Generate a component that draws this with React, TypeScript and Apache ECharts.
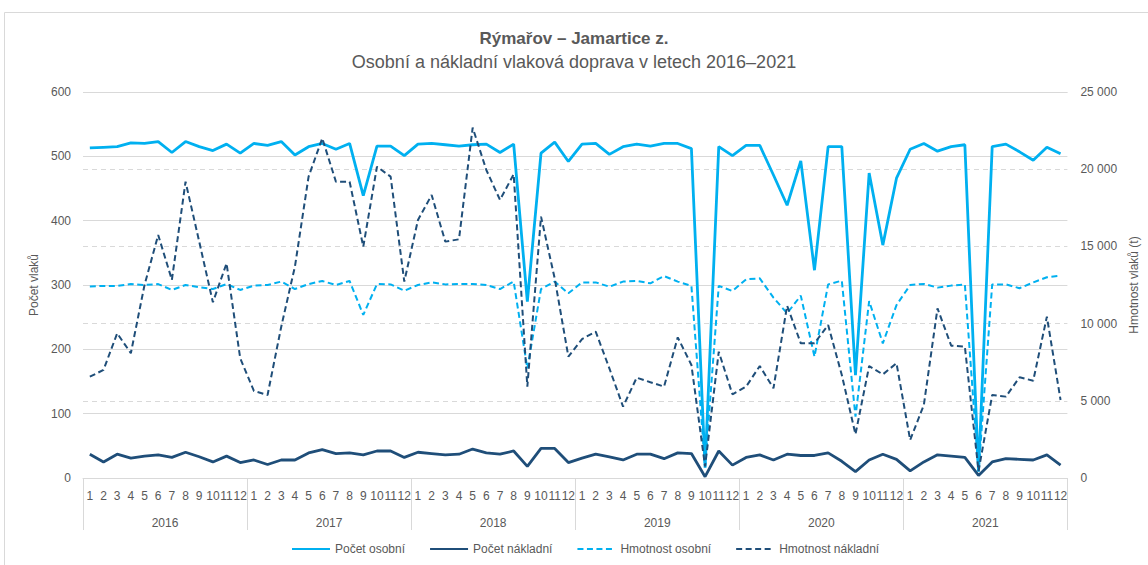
import React, { useEffect, useRef } from "react";
import * as echarts from "echarts";

const years = ["2016", "2017", "2018", "2019", "2020", "2021"];
const months = ["1", "2", "3", "4", "5", "6", "7", "8", "9", "10", "11", "12"];
const monthCategories = years.flatMap((y) => months.map((m) => `${y}-${m}`));

const seriesNames = ["Počet osobní", "Počet nákladní", "Hmotnost osobní", "Hmotnost nákladní"];

const pocetOsobni = [
  513, 514, 515, 521, 520, 523, 506, 523, 515, 509, 519, 505,
  520, 517, 523, 502, 515, 520, 511, 520, 439, 516, 516, 501,
  519, 520, 518, 516, 518, 519, 506, 519, 274, 505, 522, 492,
  519, 520, 503, 515, 519, 516, 520, 520, 512, 16, 515, 501,
  517, 517, 471, 424, 493, 323, 515, 515, 160, 474, 362, 466,
  511, 520, 508, 515, 518, 10, 515, 519, 507, 494, 514, 504,
];

const pocetNakladni = [
  37, 25, 37, 31, 34, 36, 32, 40, 33, 25, 34, 24,
  28, 21, 28, 28, 39, 44, 38, 39, 36, 42, 42, 32,
  40, 38, 36, 37, 45, 39, 37, 42, 18, 46, 46, 24,
  31, 37, 33, 28, 37, 37, 30, 39, 38, 2, 42, 20,
  32, 36, 28, 37, 35, 35, 39, 26, 10, 28, 37, 29,
  11, 25, 36, 34, 32, 4, 25, 30, 29, 28, 36, 20,
];

const hmotnostOsobni = [
  12410, 12440, 12440, 12560, 12500, 12560, 12180, 12500, 12350, 12240, 12560, 12180,
  12460, 12500, 12720, 12240, 12560, 12760, 12500, 12760, 10560, 12560, 12540, 12130,
  12500, 12670, 12540, 12560, 12560, 12500, 12240, 12720, 7100, 12240, 12720, 11960,
  12670, 12670, 12390, 12720, 12760, 12610, 13080, 12720, 12440, 700, 12440, 12110,
  12870, 12930, 11680, 10670, 11810, 7860, 12540, 12780, 3970, 11460, 8720, 11200,
  12500, 12570, 12330, 12460, 12540, 400, 12540, 12540, 12290, 12670, 13000, 13100,
];

const hmotnostNakladni = [
  6560, 7000, 9370, 8080, 12500, 15740, 12830, 19190, 15310, 11380, 13900, 7750,
  5640, 5380, 9800, 13690, 19520, 22000, 19190, 19190, 14980, 20160, 19520, 12720,
  16710, 18330, 15310, 15460, 22690, 19950, 18010, 19670, 5920, 16930, 12930, 7860,
  9000, 9480, 7100, 4620, 6500, 6200, 5920, 9110, 7320, 750, 8180, 5420,
  5920, 7250, 5810, 11160, 8720, 8720, 9910, 6670, 2830, 7250, 6710, 7430,
  2460, 4730, 10990, 8570, 8510, 450, 5380, 5270, 6520, 6300, 10450, 5050,
];

const LIGHT = "#00B0F0";
const DARK = "#1F4E79";
const TEXT = "#595959";
const GRID = "#D9D9D9";
const FONT = "'Liberation Sans', Arial, sans-serif";

const fmtThousands = (v: number) => String(v).replace(/\B(?=(\d{3})+(?!\d))/g, " ");

export default function App() {
  const ref = useRef<HTMLDivElement>(null);

  useEffect(() => {
    document.body.style.margin = "0";
    if (!ref.current) return;
    const chart = echarts.init(ref.current, undefined, { renderer: "svg" });
    chart.setOption({
      animation: false,
      backgroundColor: "#ffffff",
      textStyle: { fontFamily: FONT },
      title: {
        left: "center",
        top: 25,
        text: "Rýmařov – Jamartice z.",
        subtext: "Osobní a nákladní vlaková doprava v letech 2016–2021",
        itemGap: 6,
        textStyle: { fontFamily: FONT, fontSize: 17, fontWeight: "bold", color: TEXT },
        subtextStyle: { fontFamily: FONT, fontSize: 18, color: TEXT },
      },
      graphic: [
        {
          type: "rect",
          shape: { x: 4.5, y: 12.5, width: 1300, height: 700 },
          style: { fill: "none", stroke: GRID, lineWidth: 1 },
          silent: true,
        },
      ],
      legend: {
        bottom: 5,
        left: 286,
        itemWidth: 38,
        itemHeight: 10,
        itemGap: 24,
        itemStyle: { opacity: 0 },
        textStyle: { fontFamily: FONT, fontSize: 12, color: TEXT },
        data: seriesNames,
      },
      grid: { left: 83, right: 78, top: 92, bottom: 87, containLabel: false },
      xAxis: [
        {
          type: "category",
          data: monthCategories,
          boundaryGap: true,
          axisLine: { lineStyle: { color: GRID } },
          axisTick: { show: false },
          axisLabel: {
            interval: 0,
            hideOverlap: false,
            margin: 12,
            fontSize: 12,
            color: TEXT,
            fontFamily: FONT,
            formatter: (v: string) => v.split("-")[1],
          },
        },
        {
          type: "category",
          data: years,
          position: "bottom",
          boundaryGap: true,
          axisLine: { show: false },
          axisTick: { show: true, length: 52, lineStyle: { color: GRID } },
          axisLabel: { margin: 39, fontSize: 12, color: TEXT, fontFamily: FONT },
          splitLine: { show: false },
        },
      ],
      yAxis: [
        {
          type: "value",
          min: 0,
          max: 600,
          interval: 100,
          name: "Počet vlaků",
          nameLocation: "middle",
          nameGap: 42,
          nameRotate: 90,
          nameTextStyle: { fontSize: 12, color: TEXT, fontFamily: FONT },
          axisLine: { show: false },
          axisTick: { show: false },
          axisLabel: { fontSize: 12, color: TEXT, margin: 12, fontFamily: FONT },
          splitLine: { lineStyle: { color: GRID, width: 1 } },
        },
        {
          type: "value",
          min: 0,
          max: 25000,
          interval: 5000,
          position: "right",
          name: "Hmotnost vlaků (t)",
          nameLocation: "middle",
          nameGap: 57,
          nameRotate: 90,
          nameTextStyle: { fontSize: 12, color: TEXT, fontFamily: FONT },
          axisLine: { show: false },
          axisTick: { show: false },
          axisLabel: { fontSize: 12, color: TEXT, margin: 13, fontFamily: FONT, formatter: fmtThousands },
          splitLine: { lineStyle: { color: GRID, width: 1, type: [5, 4] } },
        },
      ],
      series: [
        {
          name: seriesNames[0],
          type: "line",
          xAxisIndex: 0,
          yAxisIndex: 0,
          data: pocetOsobni,
          symbol: "none",
          lineStyle: { color: LIGHT, width: 2.8 },
          itemStyle: { color: LIGHT },
        },
        {
          name: seriesNames[1],
          type: "line",
          xAxisIndex: 0,
          yAxisIndex: 0,
          data: pocetNakladni,
          symbol: "none",
          lineStyle: { color: DARK, width: 2.8 },
          itemStyle: { color: DARK },
        },
        {
          name: seriesNames[2],
          type: "line",
          xAxisIndex: 0,
          yAxisIndex: 1,
          data: hmotnostOsobni,
          symbol: "none",
          lineStyle: { color: LIGHT, width: 2, type: [6, 3.5] },
          itemStyle: { color: LIGHT },
        },
        {
          name: seriesNames[3],
          type: "line",
          xAxisIndex: 0,
          yAxisIndex: 1,
          data: hmotnostNakladni,
          symbol: "none",
          lineStyle: { color: DARK, width: 2, type: [6, 3.5] },
          itemStyle: { color: DARK },
        },
      ],
    });
    return () => chart.dispose();
  }, []);

  return <div ref={ref} style={{ width: 1148, height: 565 }} />;
}
